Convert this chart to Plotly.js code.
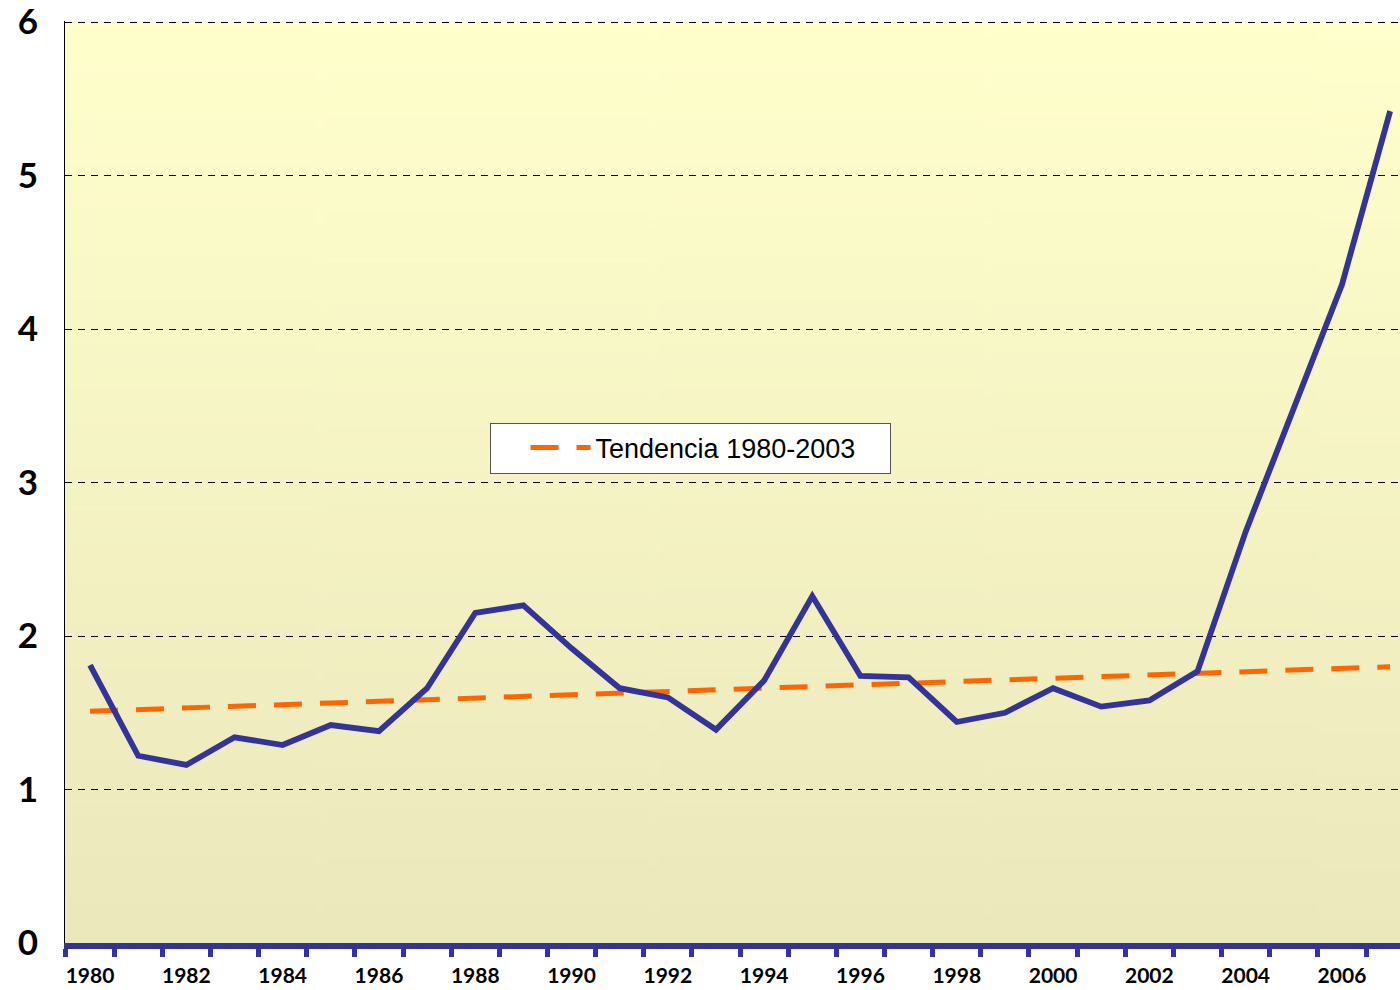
<!DOCTYPE html>
<html>
<head>
<meta charset="utf-8">
<script src="https://cdn.plot.ly/plotly-3.0.1.min.js"></script>
<style>html,body{margin:0;padding:0;background:#fff;}#chart{width:1400px;height:990px;}</style>
</head>
<body>
<div id="chart"></div>
<script>
// Data
const years = [1980,1981,1982,1983,1984,1985,1986,1987,1988,1989,1990,1991,1992,1993,
               1994,1995,1996,1997,1998,1999,2000,2001,2002,2003,2004,2005,2006,2007];
const values = [1.81,1.22,1.16,1.34,1.29,1.42,1.38,1.66,2.15,2.20,1.92,1.66,1.60,1.39,
                1.71,2.26,1.74,1.73,1.44,1.50,1.66,1.54,1.58,1.77,2.68,3.48,4.29,5.42];
const trendYears = [1980, 2007];
const trendValues = [1.51, 1.80];
const trendName = "Tendencia 1980-2003";
const xTickVals = [1980,1982,1984,1986,1988,1990,1992,1994,1996,1998,2000,2002,2004,2006];
const xTickText = xTickVals.map(String);
const yTickVals = [0,1,2,3,4,5,6];

// vertical gradient for the plot background
function gradientURL() {
  const c = document.createElement('canvas');
  c.width = 8; c.height = 512;
  const g = c.getContext('2d');
  const lg = g.createLinearGradient(0, 0, 0, 512);
  lg.addColorStop(0, '#FFFFCC');
  lg.addColorStop(1, '#EBE8BC');
  g.fillStyle = lg;
  g.fillRect(0, 0, 8, 512);
  return c.toDataURL('image/png');
}

const traces = [
  {
    x: trendYears, y: trendValues, name: trendName, type: 'scatter', mode: 'lines',
    line: {color: '#FF6600', width: 5, dash: '28px,18px'},
    showlegend: true, hoverinfo: 'skip'
  },
  {
    x: years, y: values, name: 'Serie', type: 'scatter', mode: 'lines',
    line: {color: '#333399', width: 5.8},
    showlegend: false
  }
];

const layout = {
  width: 1400, height: 990,
  margin: {l: 65, r: 0, t: 21, b: 47, pad: 0},
  paper_bgcolor: '#FFFFFF',
  plot_bgcolor: 'rgba(0,0,0,0)',
  images: [{
    source: gradientURL(), xref: 'paper', yref: 'paper',
    x: 0, y: 1, sizex: 1, sizey: 1, xanchor: 'left', yanchor: 'top',
    sizing: 'stretch', layer: 'below'
  }],
  xaxis: {
    range: [1979.48, 2007.205],
    tickmode: 'array', tickvals: xTickVals, ticktext: xTickText,
    ticks: '', showgrid: false, zeroline: false,
    showline: true, linecolor: '#333399', linewidth: 6,
    tickfont: {family: 'Lato, "DejaVu Sans", sans-serif', size: 21, color: '#000', weight: 'bold'},
    ticklabelstandoff: 9,
    minor: {tickmode: 'linear', tick0: 1979.5, dtick: 1, ticks: 'outside',
            ticklen: 8, tickwidth: 5, tickcolor: '#333399', showgrid: false}
  },
  yaxis: {
    range: [0, 6.007],
    tickmode: 'array', tickvals: yTickVals,
    ticks: '', showgrid: true, gridcolor: '#000000', gridwidth: 1, griddash: '7px,6px',
    zeroline: false, showline: true, linecolor: '#000000', linewidth: 1,
    tickfont: {family: 'Lato, "DejaVu Sans", sans-serif', size: 35, color: '#000', weight: 'bold'},
    ticklabelstandoff: 19, ticklabeloverflow: 'allow'
  },
  legend: {
    x: 0.318, y: 0.5645, xanchor: 'left', yanchor: 'top',
    orientation: 'h', entrywidth: 289, indentation: 35,
    bgcolor: '#FFFFFF', bordercolor: '#555555', borderwidth: 1,
    font: {family: '"Liberation Sans", Arial, sans-serif', size: 27, color: '#000'},
    itemwidth: 60
  },
  showlegend: true
};

Plotly.newPlot('chart', traces, layout, {displayModeBar: false, staticPlot: true});
</script>
</body>
</html>
